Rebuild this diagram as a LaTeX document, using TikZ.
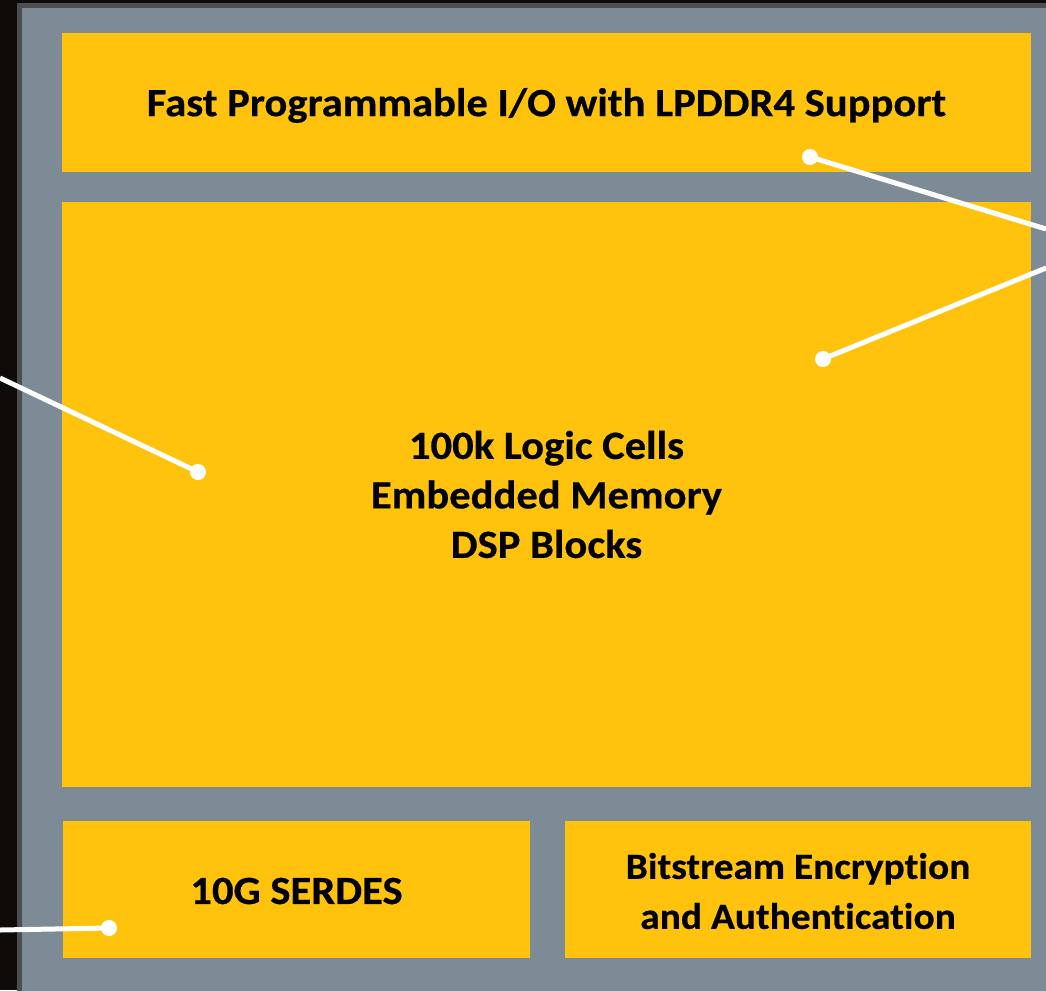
\documentclass[tikz,border=0pt]{standalone}
\usepackage{fontspec}
\setmainfont[Ligatures=NoCommon, FakeStretch=1.065, BoldFeatures={FakeBold=0.5}]{Carlito}
\definecolor{bgdark}{HTML}{0E0B09}
\definecolor{chiprim}{HTML}{4C4E50}
\definecolor{chipgrey}{HTML}{7D8B96}
\definecolor{blockyellow}{HTML}{FFC30D}
\tikzset{
  block/.style={fill=blockyellow, draw=none, inner sep=0pt},
  blocktext/.style={inner sep=0pt, font=\bfseries\fontsize{40}{49.5}\selectfont, align=center, text=black},
  smalltext/.style={blocktext, font=\bfseries\fontsize{37}{50}\selectfont},
  leader/.style={draw=white, line width=5pt},
  pin/.style={circle, fill=white, inner sep=0pt, minimum size=16pt}
}
\begin{document}
\begin{tikzpicture}[x=1pt,y=-1pt]
\useasboundingbox (0,0) rectangle (1046,990);
\clip (0,0) rectangle (1046,990);
% backdrop and chip outline
\fill[bgdark] (0,0) rectangle (1046,990);
\fill[chiprim] (17,3) rectangle (1060,1000);
\fill[chipgrey] (22,8) rectangle (1060,1000);
% functional blocks
\node[block, minimum width=969pt, minimum height=139pt] (io) at (546.5,102.5) {};
\node[block, minimum width=969pt, minimum height=585pt] (fabric) at (546.5,494.5) {};
\node[block, minimum width=467pt, minimum height=137pt] (serdes) at (296.5,889) {};
\node[block, minimum width=466pt, minimum height=137pt] (crypto) at (798,889) {};
% block captions
\node[blocktext, yshift=-3pt] (io-text) at (io.center) {Fast Programmable I/O with LPDDR4 Support};
\node[blocktext] (fabric-text) at (fabric.center) {100k Logic Cells\\Embedded Memory\\DSP Blocks};
\node[blocktext, yshift=-2pt] (serdes-text) at (serdes.center) {10G SERDES};
\node[smalltext, yshift=-2pt] (crypto-text) at (crypto.center) {Bitstream Encryption\\and Authentication};
% callout anchors
\node[pin] (pio) at (810,157) {};
\node[pin] (pfabR) at (823,359) {};
\node[pin] (pfabL) at (198,472) {};
\node[pin] (pserdes) at (109,928) {};
\coordinate (eio) at (1046,229);
\coordinate (efabR) at (1046,268);
\coordinate (efabL) at (0,378);
\coordinate (eserdes) at (0,930);
% leader lines
\draw[leader] (pio.center) -- (eio);
\draw[leader] (pfabR.center) -- (efabR);
\draw[leader] (pfabL.center) -- (efabL);
\draw[leader] (pserdes.center) -- (eserdes);
\end{tikzpicture}
\end{document}
